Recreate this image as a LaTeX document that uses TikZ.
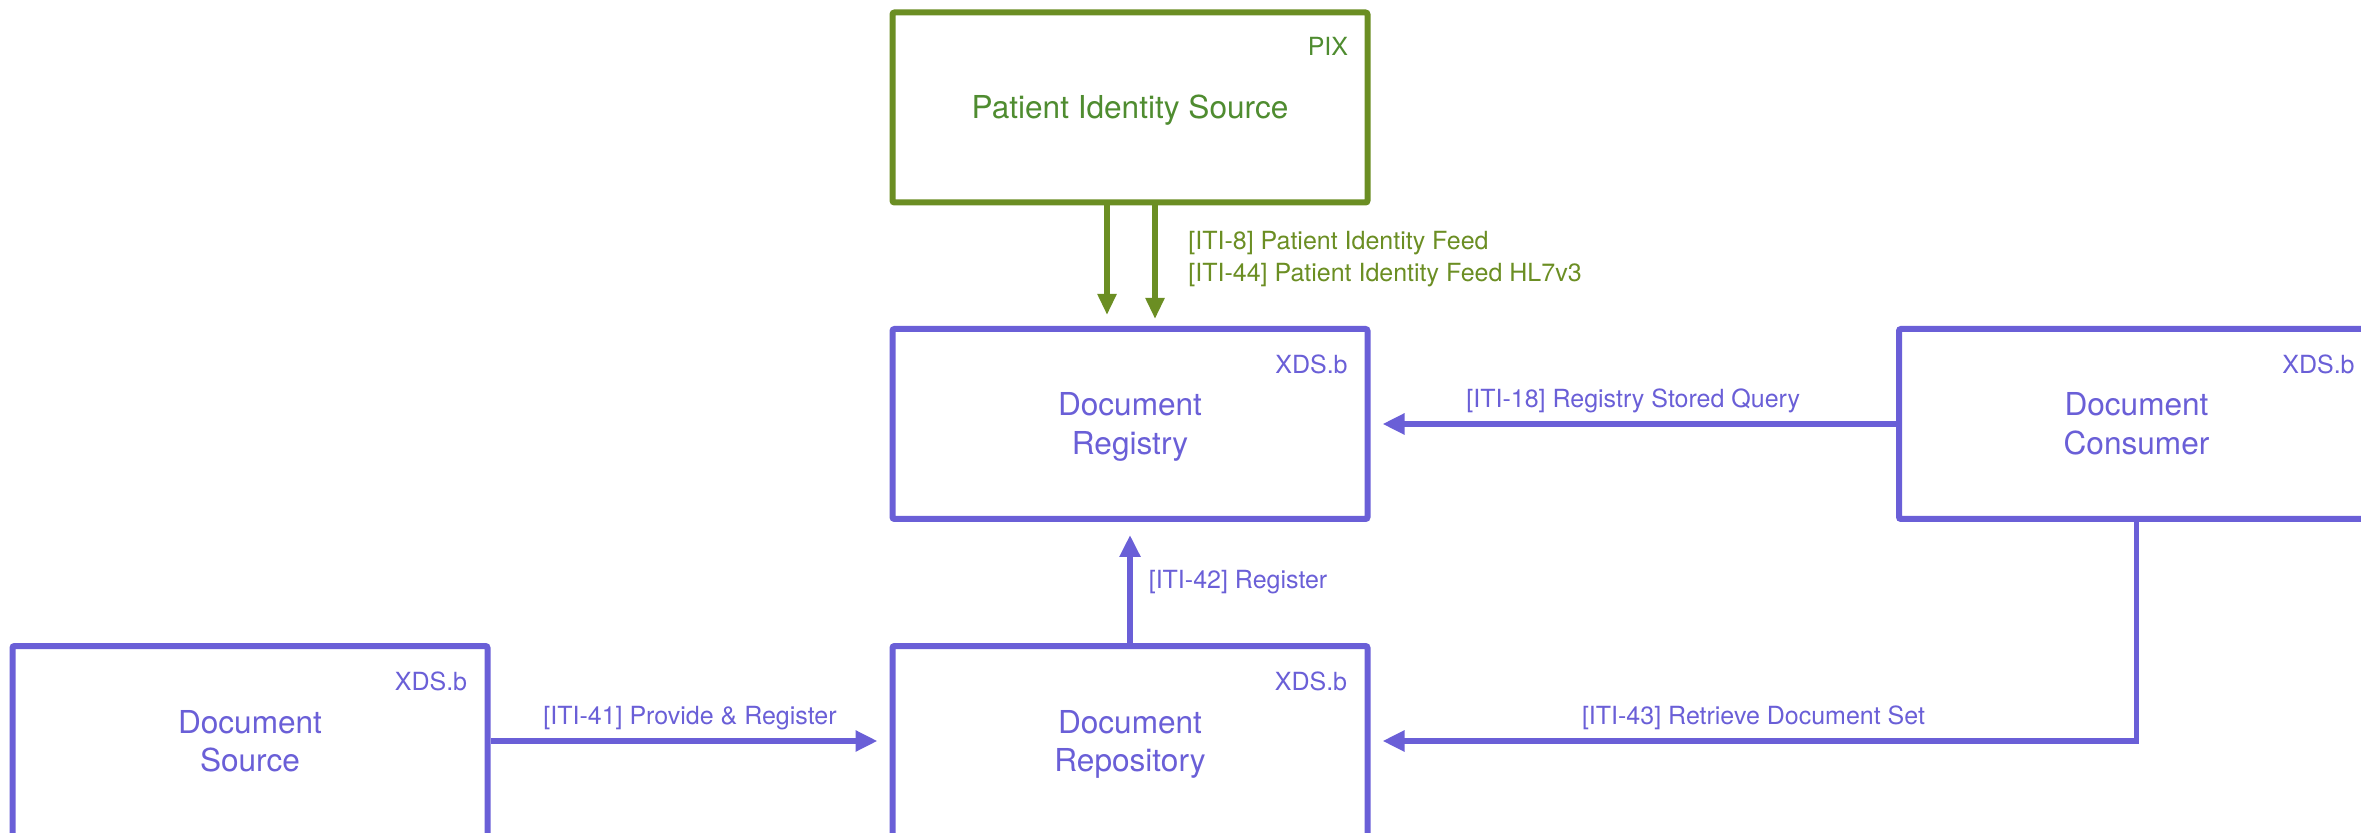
\documentclass[tikz,border=0pt]{standalone}
\usepackage{fontspec}
\setmainfont{TeX Gyre Heros}
\usetikzlibrary{arrows.meta,calc}
\definecolor{xds}{HTML}{6A5FD7}
\definecolor{pixline}{HTML}{6B8E23}
\definecolor{pixtext}{HTML}{4F8C30}
\newcommand{\bxs}{\rule[-3.5pt]{0pt}{18.1pt}}
\begin{document}
\begin{tikzpicture}[x=0.5pt,y=-0.5pt,
  box/.style={draw=xds, text=xds, line width=3pt, rounded corners=1pt,
    minimum width=237.5pt, minimum height=95pt, inner sep=0pt, align=center,
    font=\fontsize{15.8}{18}\selectfont},
  pixbox/.style={box, draw=pixline, text=pixtext},
  tag/.style={text=xds, inner sep=0pt, anchor=base east, font=\fontsize{12.5}{15}\selectfont},
  pixtag/.style={tag, text=pixtext},
  lab/.style={text=xds, inner sep=0pt, font=\fontsize{12.5}{15}\selectfont},
  glab/.style={lab, text=pixline, anchor=base west},
  parrow/.style={draw=xds, line width=2.8pt, -{Triangle[length=11pt,width=10pt]}},
  garrow/.style={draw=pixline, line width=2.6pt, -{Triangle[length=10.5pt,width=9pt]}}
]
\clip (0,0) rectangle (2361,833);

% boxes
\node[pixbox] (pix)  at (1130,107.5) {\bxs Patient Identity Source};
\node[box]    (reg)  at (1130,424)   {\bxs Document\\\bxs Registry};
\node[box]    (cons) at (2136.5,424) {\bxs Document\\\bxs Consumer};
\node[box]    (src)  at (250,741)    {\bxs Document\\\bxs Source};
\node[box]    (repo) at (1130,741)   {\bxs Document\\\bxs Repository};

% profile tags
\node[pixtag] (pixt)  at ($(pix.north east)+(-22,46)$)  {PIX};
\node[tag]    (regt)  at ($(reg.north east)+(-22.5,48)$) {XDS.b};
\node[tag]    (const) at ($(cons.north east)+(-22,48)$) {XDS.b};
\node[tag]    (srct)  at ($(src.north east)+(-23,47)$)  {XDS.b};
\node[tag]    (repot) at ($(repo.north east)+(-23,47)$) {XDS.b};

% patient identity feeds
\draw[garrow, shorten >=5.5pt] ([xshift=-11.5pt]pix.south) -- ([xshift=-11.5pt]reg.north);
\draw[garrow, shorten >=3.5pt] ([xshift=12.5pt]pix.south) -- ([xshift=12.5pt]reg.north);
\node[glab] (l8)  at (1188,250) {[ITI-8] Patient Identity Feed};
\node[glab] (l44) at (1188,282) {[ITI-44] Patient Identity Feed HL7v3};

% transactions
\draw[parrow, shorten >=6pt] (cons.west) -- node[lab, midway, anchor=base, yshift=8pt] (l18) {[ITI-18] Registry Stored Query} (reg.east);
\draw[parrow, shorten >=6.5pt] (repo.north) -- node[lab, midway, anchor=west, xshift=8pt] (l42) {[ITI-42] Register} (reg.south);
\draw[parrow, shorten >=6pt] (src.east) -- node[lab, midway, anchor=base, yshift=8.5pt] (l41) {[ITI-41] Provide \& Register} (repo.west);
\draw[parrow, shorten >=6pt] (cons.south) |- node[lab, pos=0.75, anchor=base, yshift=8.5pt] (l43) {[ITI-43] Retrieve Document Set} (repo.east);
\end{tikzpicture}
\end{document}
